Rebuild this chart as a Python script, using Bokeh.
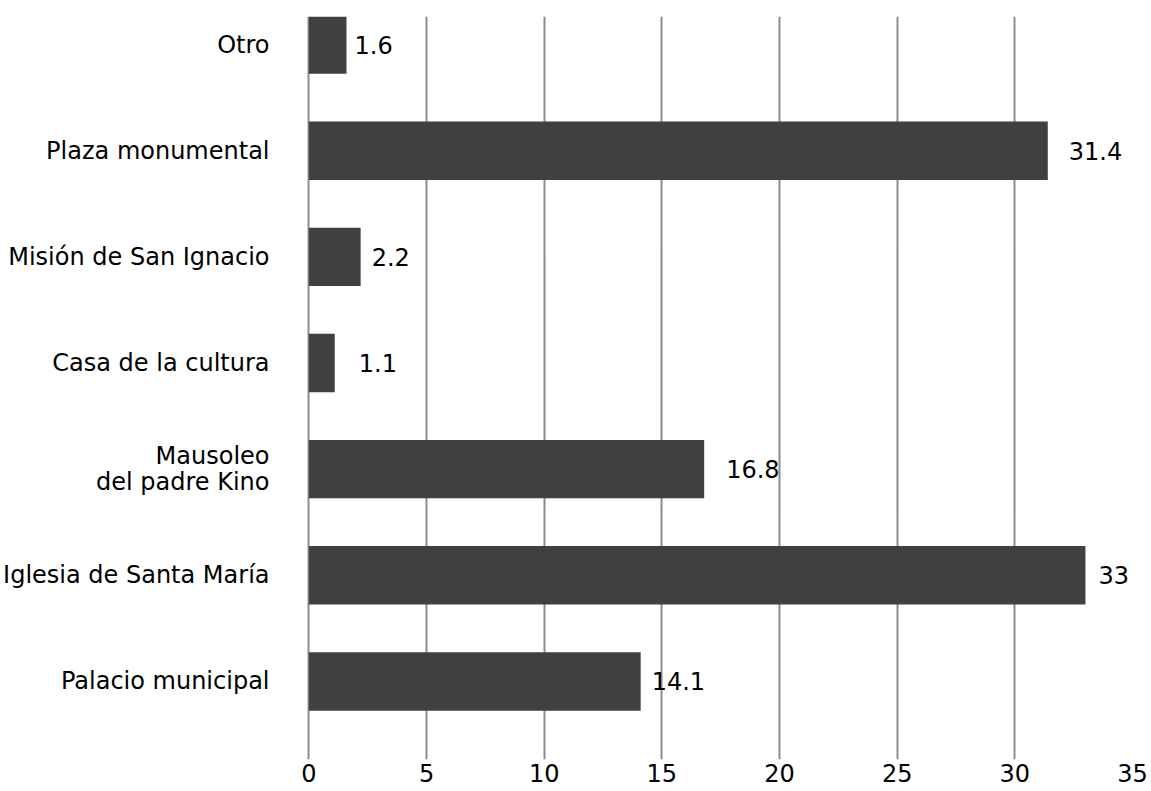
from bokeh.plotting import figure
from bokeh.models import FixedTicker, ColumnDataSource
from bokeh.embed import file_html
from bokeh.resources import INLINE
from bokeh.core.properties import value

categories = [
    "Palacio municipal",
    "Iglesia de Santa María",
    "Mausoleo\ndel padre Kino",
    "Casa de la cultura",
    "Misión de San Ignacio",
    "Plaza monumental",
    "Otro",
]
values = [14.1, 33, 16.8, 1.1, 2.2, 31.4, 1.6]
value_labels = ["14.1", "33", "16.8", "1.1", "2.2", "31.4", "1.6"]
x_ticks = [0, 5, 10, 15, 20, 25, 30, 35]

# style: horizontal pixel offsets of value labels
label_dx = [11, 13, 22, 24, 11, 21, 8]

positions = list(range(len(categories)))
FONT = "DejaVu Sans"
FS = "24px"

src = ColumnDataSource(dict(y=positions, v=values, t=value_labels, dx=label_dx))

p = figure(width=1151, height=791, output_backend="svg", toolbar_location=None,
           x_range=(-0.1, 35), y_range=(-0.735, 6.264),
           min_border_left=305, min_border_top=16, min_border_right=19,
           min_border_bottom=32)
p.outline_line_color = None
p.background_fill_color = "white"
p.border_fill_color = "white"

p.hbar(y="y", right="v", left=0, height=0.55, source=src,
       fill_color="#404040", line_color=None)
p.text(x="v", y="y", text="t", x_offset="dx", source=src,
       text_baseline="middle", text_align="left", text_color="black",
       text_font=value(FONT), text_font_size=FS)

p.xaxis.ticker = FixedTicker(ticks=x_ticks)
p.xaxis.axis_line_color = None
p.xaxis.major_tick_line_color = None
p.xaxis.minor_tick_line_color = None
p.xaxis.major_tick_out = 0
p.xaxis.major_label_standoff = 4
p.xaxis.major_label_text_font = FONT
p.xaxis.major_label_text_font_size = FS
p.xaxis.major_label_text_color = "black"

p.yaxis.ticker = FixedTicker(ticks=positions)
p.yaxis.major_label_overrides = {i: c for i, c in zip(positions, categories)}
p.yaxis.axis_line_color = None
p.yaxis.major_tick_line_color = None
p.yaxis.minor_tick_line_color = None
p.yaxis.major_tick_out = 0
p.yaxis.major_label_standoff = 37
p.yaxis.major_label_text_font = FONT
p.yaxis.major_label_text_font_size = FS
p.yaxis.major_label_text_color = "black"
p.yaxis.major_label_text_align = "right"
p.yaxis.major_label_text_line_height = 0.93

p.ygrid.grid_line_color = None
p.xgrid.ticker = FixedTicker(ticks=x_ticks)
p.xgrid.grid_line_color = "#8c8c8c"
p.xgrid.grid_line_width = 2

open("out.html", "w").write(file_html(p, INLINE))
